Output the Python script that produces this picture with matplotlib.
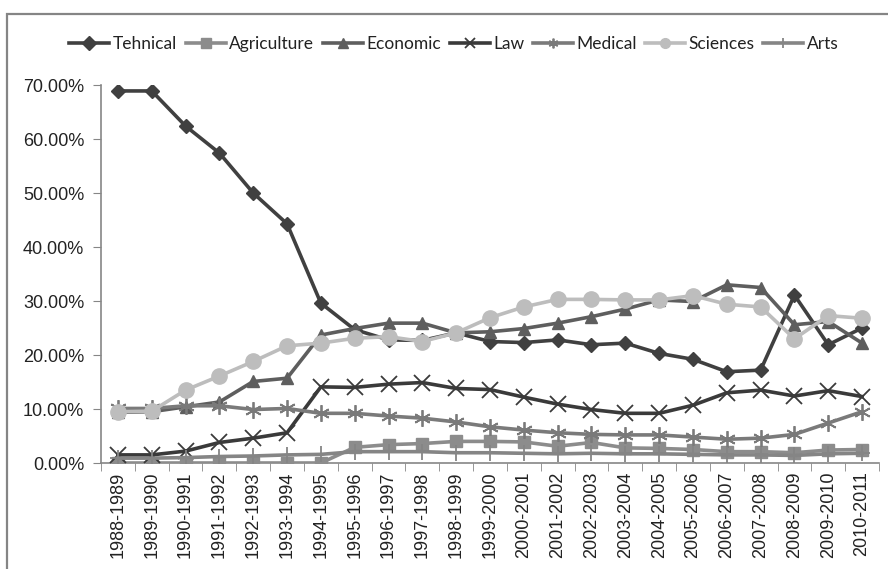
import matplotlib.pyplot as plt
import matplotlib.patches as patches
import numpy as np
from matplotlib.ticker import PercentFormatter, FixedLocator

years = ["1988-1989", "1989-1990", "1990-1991", "1991-1992", "1992-1993", "1993-1994",
         "1994-1995", "1995-1996", "1996-1997", "1997-1998", "1998-1999", "1999-2000",
         "2000-2001", "2001-2002", "2002-2003", "2003-2004", "2004-2005", "2005-2006",
         "2006-2007", "2007-2008", "2008-2009", "2009-2010", "2010-2011"]

tehnical = [68.9, 68.9, 62.4, 57.4, 50.0, 44.3, 29.6, 24.7, 22.8, 22.7, 24.1, 22.5,
            22.3, 22.8, 21.9, 22.2, 20.3, 19.2, 16.9, 17.2, 31.1, 21.9, 25.0]
agriculture = [0.0, 0.0, 0.0, 0.0, 0.0, 0.0, 0.0, 2.9, 3.4, 3.6, 4.0, 4.0,
               3.9, 3.1, 3.8, 2.8, 2.7, 2.5, 2.1, 2.1, 1.9, 2.4, 2.5]
economic = [9.4, 9.5, 10.4, 11.3, 15.1, 15.7, 23.7, 24.9, 25.9, 25.9, 24.1, 24.3,
            24.9, 25.9, 27.1, 28.5, 30.2, 29.9, 33.0, 32.5, 25.6, 26.2, 22.2]
law = [1.5, 1.5, 2.2, 3.8, 4.6, 5.6, 14.1, 14.0, 14.6, 14.9, 13.8, 13.6,
       12.2, 10.9, 9.9, 9.2, 9.2, 10.7, 13.0, 13.5, 12.4, 13.4, 12.3]
medical = [10.1, 10.1, 10.6, 10.6, 9.9, 10.1, 9.2, 9.2, 8.7, 8.3, 7.6, 6.7,
           6.1, 5.6, 5.3, 5.2, 5.2, 4.8, 4.4, 4.6, 5.3, 7.4, 9.5]
sciences = [9.5, 9.6, 13.5, 16.1, 18.8, 21.7, 22.2, 23.1, 23.4, 22.5, 24.1, 26.9,
            28.9, 30.3, 30.3, 30.2, 30.2, 31.0, 29.4, 28.9, 23.0, 27.3, 26.8]
arts = [0.9, 0.9, 1.0, 1.2, 1.3, 1.5, 1.6, 2.1, 2.1, 2.1, 1.9, 1.9,
        1.8, 1.7, 1.8, 1.7, 1.7, 1.6, 1.5, 1.5, 1.4, 1.7, 1.8]

fig = plt.figure(figsize=(8.88, 5.69), dpi=100)
# rahmen um das diagramm
fig.patches.append(patches.Rectangle((7 / 888, -0.1), 1.0, 1 - 14 / 569 + 0.1,
                                     transform=fig.transFigure, fill=False,
                                     edgecolor="#858585", linewidth=1.6))

ax = fig.add_axes([101 / 888, 1 - 463 / 569, 778 / 888, 378 / 569])
x = np.arange(len(years))

series = [
    ("Tehnical", tehnical, "#404040", "D", 7, "#404040"),
    ("Agriculture", agriculture, "#8c8c8c", "s", 9, "#8c8c8c"),
    ("Economic", economic, "#5e5e5e", "^", 9, "#5e5e5e"),
    ("Law", law, "#3a3a3a", "x", 11, "#3a3a3a"),
    ("Medical", medical, "#7a7a7a", (6, 2, 0), 12, "#7a7a7a"),
    ("Sciences", sciences, "#bdbdbd", "o", 11, "#bdbdbd"),
    ("Arts", arts, "#858585", "+", 12, "#858585"),
]
for name, vals, col, mk, ms, mc in series:
    ax.plot(x, vals, color=col, lw=2.6, marker=mk, markersize=ms,
            markerfacecolor=mc, markeredgecolor=mc,
            markeredgewidth=1.3 if mk in ("x", "+") or isinstance(mk, tuple) else 1,
            label=name, zorder=3)

ax.set_xlim(-0.5, len(years) - 0.5)
ax.set_ylim(0, 70)
ax.yaxis.set_major_formatter(PercentFormatter(100, decimals=2))
ax.set_yticks(np.arange(0, 71, 10))
ax.set_xticks(x)
ax.set_xticklabels(years, rotation=90, fontsize=13, family="Liberation Sans", color="#222222")
ax.xaxis.set_minor_locator(FixedLocator(np.arange(-0.5, len(years), 1)))
ax.tick_params(axis="x", which="major", length=0, pad=6)
ax.tick_params(axis="x", which="minor", length=6, color="#868686", direction="out")
ax.tick_params(axis="y", length=6, color="#868686", direction="out", pad=6)
for t in ax.get_yticklabels():
    t.set_fontsize(13)
    t.set_family("Liberation Sans")
    t.set_color("#222222")

for s in ["top", "right"]:
    ax.spines[s].set_visible(False)
for s in ["left", "bottom"]:
    ax.spines[s].set_color("#868686")
    ax.spines[s].set_linewidth(1.2)

leg = fig.legend(loc="center", bbox_to_anchor=(454 / 888, 1 - 44 / 569), ncol=7,
                 frameon=False, handlelength=2.3, handletextpad=0.2,
                 columnspacing=0.5, prop={"family": "Lato", "size": 12.5})
for h in leg.legend_handles:
    h.set_markersize(7)
for t in leg.get_texts():
    t.set_color("#222222")

fig.savefig("out.png", dpi=100)
